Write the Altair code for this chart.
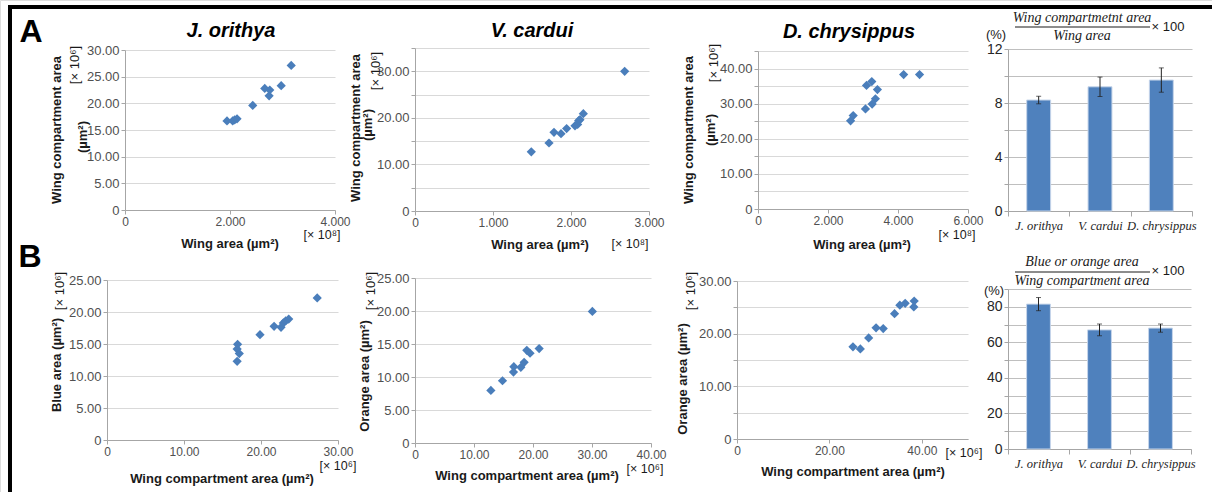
import altair as alt
import pandas as pd

W, H = 1212, 492
BLUE = "#4a7ebb"

# ---------------- data ----------------
# Row A: wing area (x10^8 um^2) vs wing compartment area (x10^6 um^2)
jo_wing = [1.943, 2.051, 2.089, 2.134, 2.433, 2.662, 2.758, 2.745, 2.975, 3.166]
jo_comp = [16.7, 16.7, 16.9, 17.1, 19.6, 22.8, 22.5, 21.4, 23.3, 27.1]

vc_wing = [1.491, 1.718, 1.782, 1.872, 1.944, 2.051, 2.085, 2.098, 2.115, 2.158, 2.688]
vc_comp = [12.7, 14.6, 16.9, 16.6, 17.7, 18.3, 18.6, 19.4, 19.6, 20.9, 30.0]

dc_wing = [2.645, 2.720, 3.071, 3.100, 3.251, 3.261, 3.355, 3.412, 4.161, 4.616]
dc_comp = [25.1, 26.6, 28.5, 35.2, 36.3, 29.9, 31.4, 34.0, 38.3, 38.3]

# Row B: wing compartment area vs blue / orange area (x10^6 um^2)
jo_comp_b = [16.96, 16.9, 17.18, 16.9, 19.87, 21.7, 22.6, 22.9, 23.2, 23.6, 27.3]
jo_blue = [14.95, 14.2, 13.5, 12.3, 16.46, 17.76, 17.6, 18.3, 18.6, 18.9, 22.2]

vc_comp_b = [12.86, 14.83, 16.75, 16.69, 17.94, 18.5, 18.95, 19.5, 21.04, 30.06]
vc_orange = [7.96, 9.43, 11.56, 10.75, 11.46, 12.22, 14.05, 13.6, 14.3, 19.93]

dc_comp_b = [25.1, 26.7, 28.5, 30.1, 31.65, 34.1, 35.25, 36.4, 38.35, 38.27]
dc_orange = [17.5, 17.1, 19.2, 21.1, 20.97, 23.8, 25.4, 25.77, 26.2, 25.08]

# Bar panels (%)
species = ["J. orithya", "V. cardui", "D. chrysippus"]
ratio_a = [8.22, 9.2, 9.7]
err_a = [0.28, 0.72, 0.9]
ratio_b = [81.5, 67.0, 68.0]
err_b = [3.7, 3.3, 2.3]

# ---------------- helpers ----------------
AX = dict(domainColor="#a6a6a6", tickColor="#a6a6a6", tickSize=4,
          labelFont="Liberation Sans", labelColor="#505050",
          labelPadding=2, gridColor="#d9d9d9", labelFlush=False,
          labelOverlap=False, title=None)


def scatter(xv, yv, xdom, xrng, xticks, xfmt, ydom, yrng, yticks, yevery):
    df = pd.DataFrame({"x": xv, "y": yv})
    xaxis = alt.Axis(orient="bottom", offset=yrng[0] - H, values=xticks, grid=False,
                     labelFontSize=12,
                     labelExpr=f"datum.value == 0 ? '0' : format(datum.value, '{xfmt}')", **AX)
    yaxis = alt.Axis(orient="left", offset=-xrng[0], values=yticks, grid=True,
                     labelFontSize=13,
                     labelExpr=f"datum.value == 0 ? '0' : (datum.value % {yevery} == 0 ? format(datum.value, '.2f') : '')",
                     **AX)
    return alt.Chart(df).mark_point(shape="diamond", filled=True, size=85, color=BLUE, opacity=1).encode(
        x=alt.X("x:Q", scale=alt.Scale(domain=xdom, range=xrng, nice=False, zero=False), axis=xaxis),
        y=alt.Y("y:Q", scale=alt.Scale(domain=ydom, range=yrng, nice=False), axis=yaxis),
    )


def bars(vals, errs, xrng, ydom, yrng, yticks, yevery):
    df = pd.DataFrame({
        "sp": species,
        "v": vals,
        "lo": [v - e for v, e in zip(vals, errs)],
        "hi": [v + e for v, e in zip(vals, errs)],
    })
    xaxis = alt.Axis(orient="bottom", offset=yrng[0] - H, grid=False, labelAngle=0,
                     tickBand="extent", domainColor="#a6a6a6", tickColor="#a6a6a6", tickSize=5,
                     labelFont="Liberation Serif", labelFontStyle="italic", labelFontSize=12.5,
                     labelColor="#262626", labelPadding=3, labelOverlap=False, title=None)
    yaxis = alt.Axis(orient="left", offset=-xrng[0], values=yticks, grid=True,
                     labelFontSize=14,
                     labelExpr=f"datum.value % {yevery} == 0 ? datum.value : ''",
                     domainColor="#a6a6a6", tickColor="#a6a6a6", tickSize=4,
                     labelFont="Liberation Sans", labelColor="#262626",
                     labelPadding=2, gridColor="#bfbfbf", title=None)
    xs = alt.Scale(domain=species, range=xrng, paddingInner=0, paddingOuter=0)
    ys = alt.Scale(domain=ydom, range=yrng, nice=False)
    x = alt.X("sp:N", sort=species, scale=xs, axis=xaxis)
    base = alt.Chart(df)
    bar = base.mark_bar(width=alt.RelativeBandSize(0.39), color="#4f81bd",
                        stroke="#c6d5ea", strokeWidth=1).encode(
        x=x, y=alt.Y("v:Q", scale=ys, axis=yaxis))
    err = base.mark_rule(color="#222222", strokeWidth=1).encode(
        x=x, y=alt.Y("lo:Q", scale=ys, axis=yaxis), y2="hi:Q")
    cap_hi = base.mark_tick(color="#222222", thickness=1, size=5).encode(
        x=x, y=alt.Y("hi:Q", scale=ys, axis=yaxis))
    cap_lo = base.mark_tick(color="#222222", thickness=1, size=5).encode(
        x=x, y=alt.Y("lo:Q", scale=ys, axis=yaxis))
    return alt.layer(bar, err, cap_hi, cap_lo)


ONE = alt.Data(values=[{}])


def txt(s, x, y, size=13, bold=False, italic=False, font="Liberation Sans",
        angle=0, color="#222222", align="center", baseline="middle"):
    kw = dict(text=s, fontSize=size, font=font, color=color, align=align, baseline=baseline,
              fontWeight="bold" if bold else "normal",
              fontStyle="italic" if italic else "normal")
    if angle:
        kw["angle"] = angle
    return alt.Chart(ONE).mark_text(**kw).encode(x=alt.value(x), y=alt.value(y))


def hline(x1, x2, y, w=1, color="black"):
    return alt.Chart(ONE).mark_rule(color=color, strokeWidth=w).encode(
        x=alt.value(x1), x2=alt.value(x2), y=alt.value(y))


def vline(x, y1, y2, w=1, color="black"):
    return alt.Chart(ONE).mark_rule(color=color, strokeWidth=w).encode(
        x=alt.value(x), y=alt.value(y1), y2=alt.value(y2))


# ---------------- panels ----------------
p1 = scatter(jo_wing, jo_comp, [0, 4], [125, 335], [0, 2, 4], ".3f",
             [0, 30], [210, 50], list(range(0, 31, 5)), 5)
p2 = scatter(vc_wing, vc_comp, [0, 3], [415, 649], [0, 1, 2, 3], ".3f",
             [0, 35], [211, 48], list(range(0, 36, 5)), 10)
p3 = scatter(dc_wing, dc_comp, [0, 6], [758, 968], [0, 2, 4, 6], ".3f",
             [0, 45], [209, 51], list(range(0, 46, 5)), 10)
p4 = bars(ratio_a, err_a, [1008, 1192], [0, 12], [211, 49], list(range(0, 13, 2)), 4)

p5 = scatter(jo_comp_b, jo_blue, [0, 30], [107, 338], [0, 10, 20, 30], ".2f",
             [0, 25], [440, 280], list(range(0, 26, 5)), 5)
p6 = scatter(vc_comp_b, vc_orange, [0, 40], [415, 651], [0, 10, 20, 30, 40], ".2f",
             [0, 25], [443, 278], list(range(0, 26, 5)), 5)
p7 = scatter(dc_comp_b, dc_orange, [0, 50], [737, 968], [0, 20, 40], ".2f",
             [0, 30], [439, 281], list(range(0, 31, 5)), 10)
p8 = bars(ratio_b, err_b, [1008, 1191], [0, 90], [449, 289], list(range(0, 91, 10)), 20)

TB = "#1a1a1a"
ann = [
    # frame
    hline(8, 1212, 7, w=4),
    vline(10, 5, 492, w=4),
    # panel letters
    txt("A", 31, 42, size=32, bold=True, color="black", baseline="alphabetic"),
    txt("B", 30, 267, size=32, bold=True, color="black", baseline="alphabetic"),
    # species titles
    txt("J. orithya", 231, 31, size=20, bold=True, italic=True, color="black"),
    txt("V. cardui", 532, 31, size=20, bold=True, italic=True, color="black"),
    txt("D. chrysippus", 849, 32, size=20, bold=True, italic=True, color="black"),
    # P1 titles
    txt("Wing compartment area", 57, 130, bold=True, angle=270, color=TB),
    txt("(µm²)", 83, 137, bold=True, angle=270, color=TB),
    txt("[× 10⁶]", 75, 65, size=13, angle=270, color=TB),
    txt("Wing area (µm²)", 230, 244, bold=True, color=TB),
    txt("[× 10⁸]", 322, 235, size=12.5, color=TB),
    # P2 titles
    txt("Wing compartment area", 356, 128, bold=True, angle=270, color=TB),
    txt("(µm²)", 368, 125, bold=True, angle=270, color=TB),
    txt("[× 10⁶]", 376, 71, size=13, angle=270, color=TB),
    txt("Wing area (µm²)", 540, 245, bold=True, color=TB),
    txt("[× 10⁸]", 630, 244, size=12.5, color=TB),
    # P3 titles
    txt("Wing compartment area", 689, 130, bold=True, angle=270, color=TB),
    txt("(µm²)", 711, 130, bold=True, angle=270, color=TB),
    txt("[× 10⁶]", 714, 63, size=13, angle=270, color=TB),
    txt("Wing area (µm²)", 862, 245, bold=True, color=TB),
    txt("[× 10⁸]", 957, 235, size=12.5, color=TB),
    # P4 titles
    txt("Wing compartmetnt area", 1082, 18, size=14, italic=True, font="Liberation Serif", color=TB),
    hline(1015, 1150, 27, w=1.2, color=TB),
    txt("Wing area", 1082, 36, size=14, italic=True, font="Liberation Serif", color=TB),
    txt("× 100", 1168, 27, size=13, color=TB),
    txt("(%)", 996, 35, size=13, color=TB),
    # P5 titles
    txt("Blue area (µm²)", 57, 365, bold=True, angle=270, color=TB),
    txt("[× 10⁶]", 60, 291, size=13, angle=270, color=TB),
    txt("Wing compartment area (µm²)", 222, 479, bold=True, color=TB),
    txt("[× 10⁶]", 338, 466, size=12.5, color=TB),
    # P6 titles
    txt("Orange area (µm²)", 365, 376, bold=True, angle=270, color=TB),
    txt("[× 10⁶]", 371, 291, size=13, angle=270, color=TB),
    txt("Wing compartment area (µm²)", 527, 476, bold=True, color=TB),
    txt("[× 10⁶]", 645, 469, size=12.5, color=TB),
    # P7 titles
    txt("Orange area (µm²)", 683, 379, bold=True, angle=270, color=TB),
    txt("[× 10⁶]", 691, 291, size=13, angle=270, color=TB),
    txt("Wing compartment area (µm²)", 853, 472, bold=True, color=TB),
    txt("[× 10⁶]", 964, 453, size=12.5, color=TB),
    # P8 titles
    txt("Blue or orange area", 1082, 262, size=14, italic=True, font="Liberation Serif", color=TB),
    hline(1015, 1150, 272, w=1.2, color=TB),
    txt("Wing compartment area", 1082, 281, size=14, italic=True, font="Liberation Serif", color=TB),
    txt("× 100", 1168, 271, size=13, color=TB),
    txt("(%)", 994, 291, size=13, color=TB),
]

chart = alt.layer(p1, p2, p3, p4, p5, p6, p7, p8, *ann).resolve_scale(
    x="independent", y="independent"
).properties(
    width=W, height=H, padding=0,
    autosize=alt.AutoSizeParams(type="none"),
).configure_view(stroke=None).configure(background="white")

chart.save("out.html", embed_options={"renderer": "svg", "actions": False})
